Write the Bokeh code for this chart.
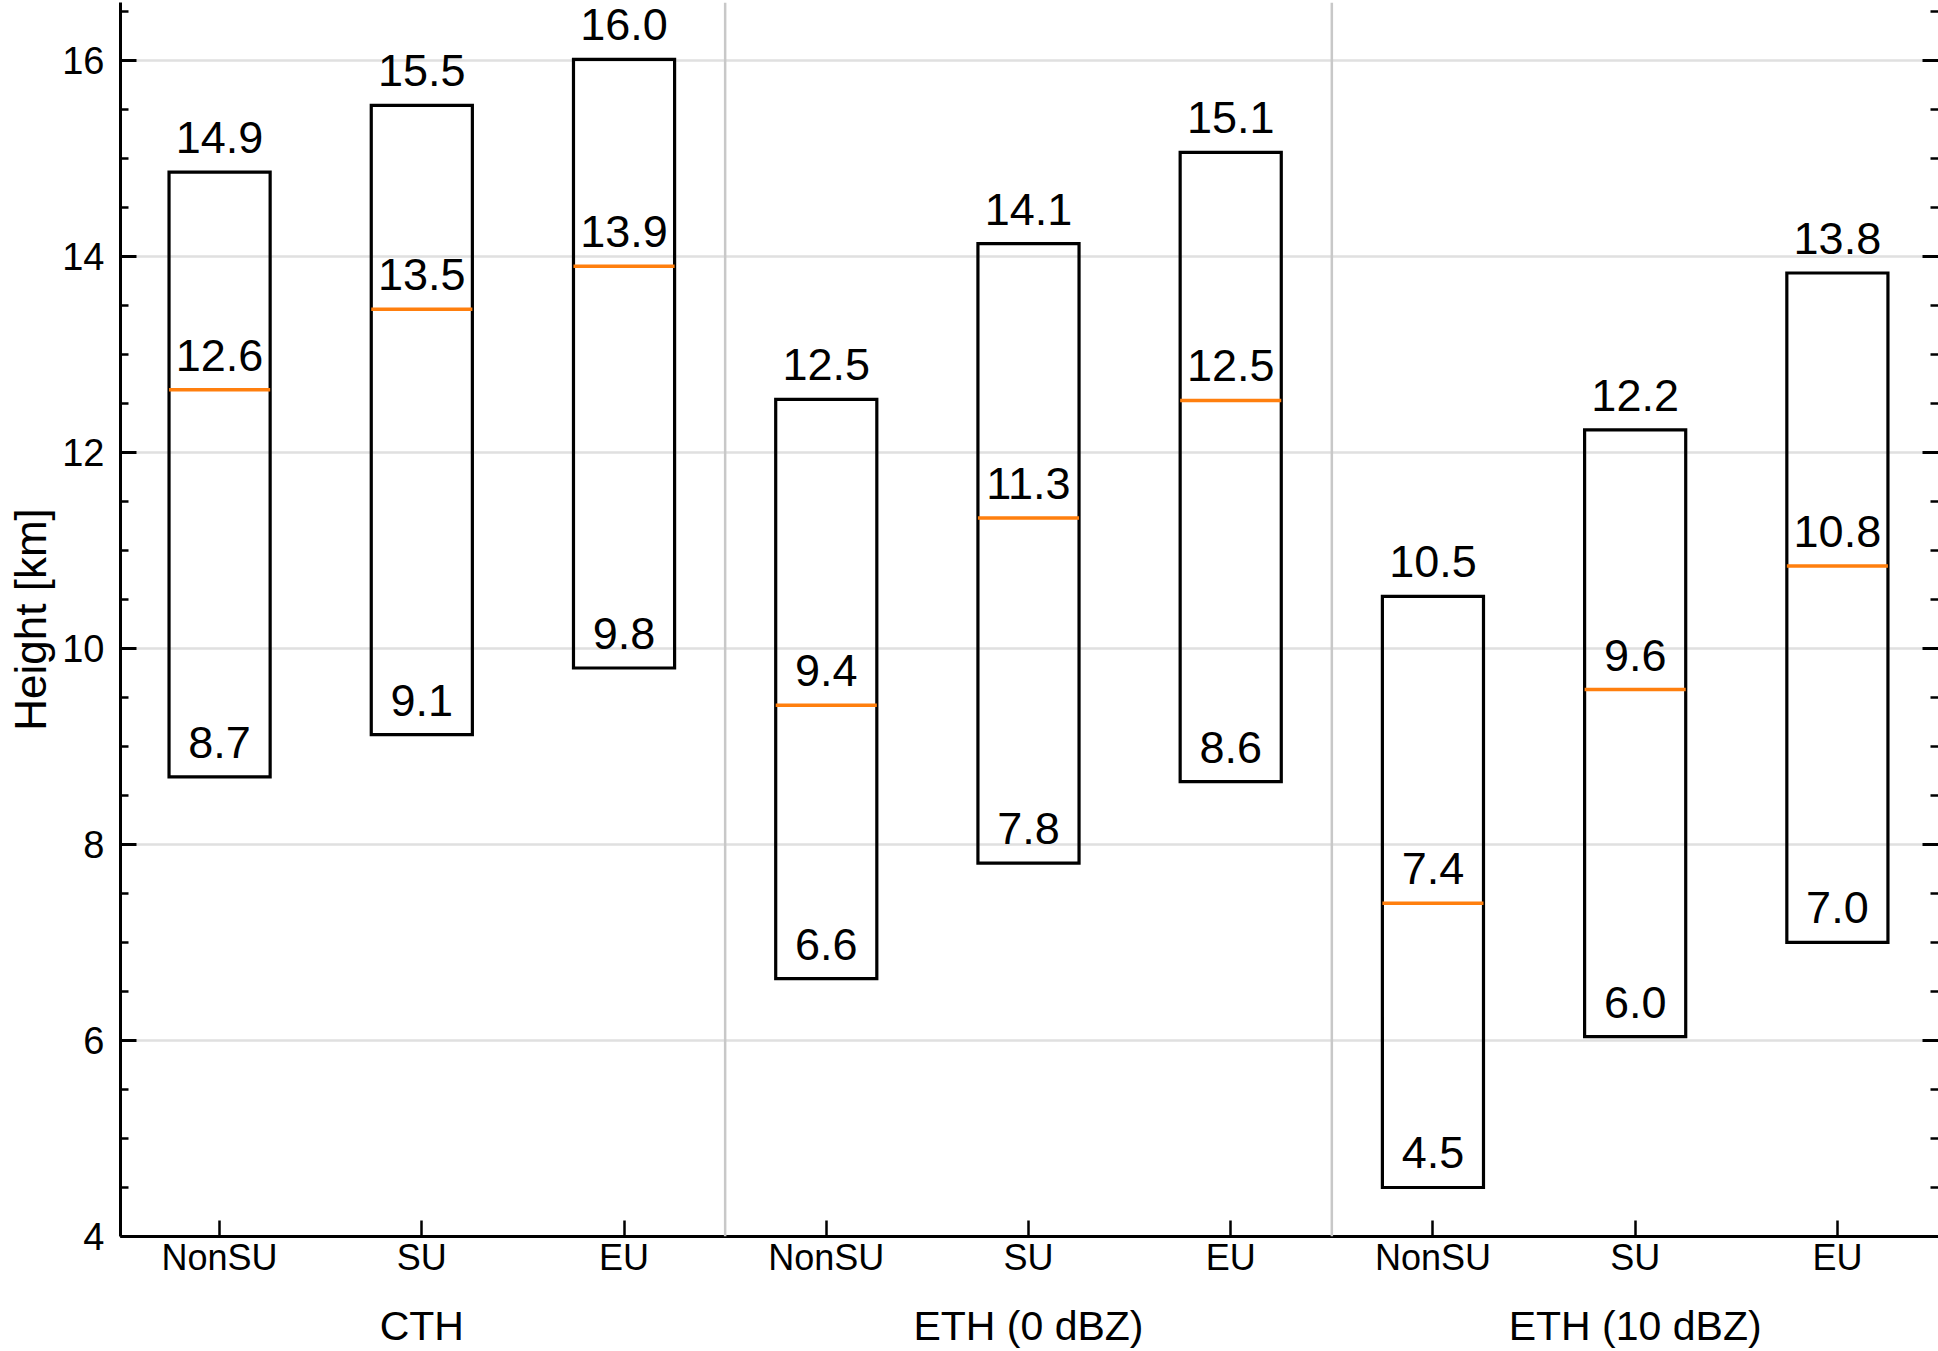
from bokeh.plotting import figure
from bokeh.models import (ColumnDataSource, FixedTicker, LinearAxis, Span, Range1d)
from bokeh.embed import file_html
from bokeh.resources import INLINE

# ---- data ----
groups = ["CTH", "ETH (0 dBZ)", "ETH (10 dBZ)"]
types = ["NonSU", "SU", "EU"]
mins = [8.69, 9.12, 9.80, 6.63, 7.81, 8.64, 4.50, 6.04, 7.00]
medians = [12.64, 13.46, 13.90, 9.42, 11.33, 12.53, 7.40, 9.58, 10.84]
maxs = [14.86, 15.54, 16.01, 12.54, 14.13, 15.06, 10.53, 12.23, 13.83]
y_ticks = [4, 6, 8, 10, 12, 14, 16]

FONT = "Liberation Sans"
ORANGE = "#ff7f0e"
HALF = 0.25

# layout constants
FIG_W, FIG_H = 1938, 1351
BORDER_TOP = 2
BORDER_BOTTOM = 115
Y0, Y1 = 4, 16.59
FRAME_H = FIG_H - BORDER_BOTTOM - BORDER_TOP
PX_PER_UNIT = FRAME_H / (Y1 - Y0)
LABEL_GAP_PX = 19        # anchor of value labels above the line

def lift(v, px):
    return v + px / PX_PER_UNIT

n = len(mins)
xs = list(range(n))
cat_labels = [types[i % 3] for i in xs]
group_pos = [g * 3 + 1 for g in range(len(groups))]

src = ColumnDataSource(dict(
    x=xs,
    left=[x - HALF for x in xs],
    right=[x + HALF for x in xs],
    lo=mins, med=medians, hi=maxs,
    lo_y=[lift(v, LABEL_GAP_PX) for v in mins],
    med_y=[lift(v, LABEL_GAP_PX) for v in medians],
    hi_y=[lift(v, LABEL_GAP_PX) for v in maxs],
    lo_t=[f"{v:.1f}" for v in mins],
    med_t=[f"{v:.1f}" for v in medians],
    hi_t=[f"{v:.1f}" for v in maxs],
))

p = figure(width=FIG_W, height=FIG_H, output_backend="svg", toolbar_location=None,
           x_range=Range1d(-0.49, 8.50), y_range=Range1d(Y0, Y1),
           min_border_left=120, min_border_right=0, min_border_top=BORDER_TOP,
           min_border_bottom=BORDER_BOTTOM,
           x_axis_location=None, y_axis_location=None)
p.outline_line_color = None
p.background_fill_color = "white"
p.border_fill_color = "white"

minor = [4 + 0.5 * k for k in range(26)]
yt = FixedTicker(ticks=y_ticks, minor_ticks=minor)

# grid
p.xgrid.visible = False
p.ygrid.ticker = FixedTicker(ticks=y_ticks)
p.ygrid.grid_line_color = "#e0e0e0"
p.ygrid.grid_line_width = 2.5

# group separators
for xsep in [2.5, 5.5]:
    p.add_layout(Span(location=xsep, dimension="height", line_color="#c8c8c8", line_width=2.5))

# boxes
p.quad(left="left", right="right", bottom="lo", top="hi", source=src,
       fill_color=None, line_color="black", line_width=3.2, line_join="miter")
p.segment(x0="left", x1="right", y0="med", y1="med", source=src,
          line_color=ORANGE, line_width=3.5)

# value labels
for ycol, tcol in [("hi_y", "hi_t"), ("med_y", "med_t"), ("lo_y", "lo_t")]:
    p.text(x="x", y=ycol, text=tcol, source=src, text_align="center",
           text_baseline="bottom", text_font_size="45px",
           text_font={"value": FONT}, text_color="black")

# left axis
yax = LinearAxis(ticker=yt, axis_label="Height [km]")
yax.axis_line_width = 3
yax.major_tick_in = 16
yax.major_tick_out = 0
yax.minor_tick_in = 8
yax.minor_tick_out = 0
yax.major_tick_line_width = 3
yax.minor_tick_line_width = 2.5
yax.major_label_standoff = 16
yax.major_label_text_font = FONT
yax.major_label_text_font_size = "38px"
yax.major_label_text_color = "black"
yax.axis_label_text_font = FONT
yax.axis_label_text_font_size = "44px"
yax.axis_label_text_font_style = "normal"
yax.axis_label_text_color = "black"
yax.axis_label_text_line_height = 1.0
yax.axis_label_standoff = 4
p.add_layout(yax, "left")

# right axis (ticks only)
rax = LinearAxis(ticker=yt)
rax.axis_line_color = None
rax.major_tick_in = 16
rax.major_tick_out = 0
rax.minor_tick_in = 8
rax.minor_tick_out = 0
rax.major_tick_line_width = 3
rax.minor_tick_line_width = 2.5
rax.major_label_standoff = 0
rax.major_label_text_font_size = "0px"
rax.major_label_overrides = {t: "" for t in y_ticks}
p.add_layout(rax, "right")

# bottom category axis
xax = LinearAxis(ticker=FixedTicker(ticks=xs, minor_ticks=[]))
xax.major_label_overrides = {x: cat_labels[x] for x in xs}
xax.axis_line_width = 3
xax.major_tick_in = 16
xax.major_tick_out = 0
xax.minor_tick_line_color = None
xax.major_tick_line_width = 2.5
xax.major_label_standoff = 0
xax.major_label_text_font = FONT
xax.major_label_text_font_size = "36px"
xax.major_label_text_line_height = 1.0
xax.major_label_text_color = "black"
p.add_layout(xax, "below")

# group label axis
gax = LinearAxis(ticker=FixedTicker(ticks=group_pos, minor_ticks=[]))
gax.major_label_overrides = {group_pos[i]: groups[i] for i in range(len(groups))}
gax.axis_line_color = None
gax.major_tick_line_color = None
gax.minor_tick_line_color = None
gax.major_label_standoff = 16
gax.major_label_text_font = FONT
gax.major_label_text_font_size = "41px"
gax.major_label_text_line_height = 1.0
gax.major_label_text_color = "black"
p.add_layout(gax, "below")

open("out.html", "w").write(file_html(p, INLINE))
